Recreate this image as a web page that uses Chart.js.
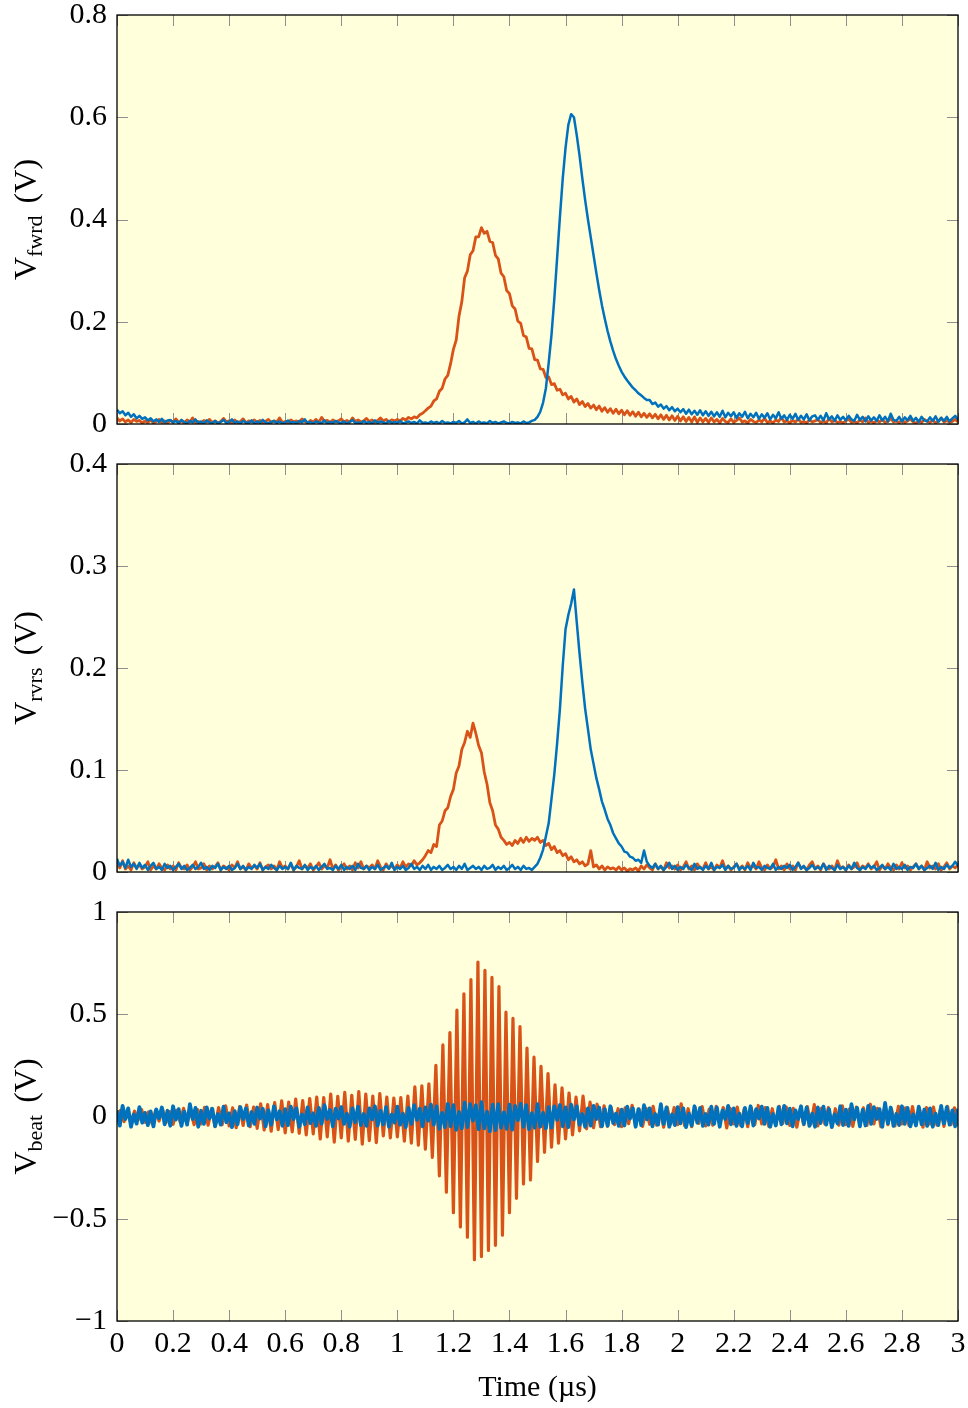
<!DOCTYPE html>
<html>
<head>
<meta charset="utf-8">
<script src="https://cdn.jsdelivr.net/npm/chart.js@4.4.1/dist/chart.umd.min.js"></script>
<style>
  body { margin: 0; background: #fff; }
  #wrap { position: relative; width: 968px; height: 1408px; }
  canvas { position: absolute; left: 0; }
</style>
</head>
<body>
<div id="wrap">
  <canvas id="fwrd" width="968" height="440" style="top:0px"></canvas>
  <canvas id="rvrs" width="968" height="440" style="top:448px"></canvas>
  <canvas id="beat" width="968" height="512" style="top:896px"></canvas>
</div>
<script>
// sampling (µs)
const sampleStep = 0.01;
const beatStep = 0.0125;
const xTicks = [0, 0.2, 0.4, 0.6, 0.8, 1, 1.2, 1.4, 1.6, 1.8, 2, 2.2, 2.4, 2.6, 2.8, 3];

const fwrdOrange = [
  0.012,0.006,0.010,0.004,0.008,0.003,0.009,0.005,0.007,0.002,
  0.006,0.003,0.008,0.002,0.005,0.009,0.003,0.006,0.002,0.007,
  0.004,0.010,0.003,0.006,0.002,0.008,0.004,0.012,0.003,0.005,
  0.002,0.007,0.004,0.009,0.003,0.006,0.002,0.005,0.011,0.004,
  0.006,0.002,0.008,0.003,0.005,0.010,0.002,0.006,0.004,0.008,
  0.003,0.007,0.002,0.005,0.009,0.003,0.006,0.004,0.012,0.003,
  0.005,0.002,0.008,0.004,0.006,0.003,0.010,0.005,0.002,0.007,
  0.004,0.009,0.003,0.013,0.005,0.007,0.003,0.008,0.004,0.006,
  0.010,0.004,0.007,0.003,0.012,0.005,0.008,0.004,0.006,0.011,
  0.005,0.008,0.003,0.007,0.012,0.006,0.009,0.004,0.008,0.006,
  0.009,0.006,0.011,0.008,0.013,0.010,0.014,0.012,0.018,0.021,
  0.026,0.031,0.035,0.045,0.049,0.064,0.070,0.088,0.095,0.118,
  0.146,0.164,0.211,0.239,0.286,0.299,0.331,0.339,0.366,0.366,
  0.384,0.373,0.377,0.357,0.355,0.330,0.323,0.295,0.288,0.261,
  0.255,0.231,0.225,0.201,0.197,0.173,0.170,0.148,0.147,0.126,
  0.125,0.108,0.107,0.091,0.092,0.077,0.079,0.066,0.068,0.057,
  0.060,0.049,0.054,0.043,0.049,0.038,0.044,0.034,0.040,0.031,
  0.037,0.028,0.035,0.025,0.032,0.023,0.030,0.021,0.029,0.020,
  0.027,0.018,0.026,0.017,0.024,0.015,0.023,0.014,0.021,0.013,
  0.020,0.012,0.019,0.010,0.018,0.009,0.017,0.008,0.016,0.007,
  0.015,0.006,0.014,0.005,0.013,0.004,0.014,0.003,0.012,0.004,
  0.011,0.003,0.012,0.004,0.009,0.002,0.011,0.005,0.003,0.010,
  0.003,0.007,0.012,0.004,0.006,0.002,0.009,0.005,0.003,0.008,
  0.004,0.011,0.003,0.006,0.002,0.008,0.005,0.013,0.004,0.006,
  0.002,0.007,0.004,0.010,0.003,0.005,0.002,0.008,0.004,0.006,
  0.009,0.003,0.006,0.002,0.011,0.004,0.007,0.003,0.005,0.002,
  0.006,0.010,0.003,0.005,0.002,0.008,0.004,0.012,0.003,0.006,
  0.002,0.007,0.004,0.009,0.003,0.005,0.011,0.004,0.006,0.002,
  0.008,0.003,0.006,0.010,0.004,0.002,0.007,0.003,0.009,0.005,
  0.003,0.008,0.002,0.006,0.012,0.004,0.007,0.003,0.005,0.009,
  0.004
];

const fwrdBlue = [
  0.028,0.021,0.025,0.017,0.022,0.014,0.019,0.011,0.016,0.010,
  0.013,0.007,0.011,0.005,0.009,0.004,0.010,0.003,0.007,0.008,
  0.003,0.006,0.002,0.008,0.004,0.001,0.006,0.003,0.009,0.002,
  0.005,0.001,0.007,0.003,0.002,0.006,0.001,0.004,0.008,0.002,
  0.004,0.009,0.002,0.005,0.001,0.006,0.003,0.002,0.007,0.001,
  0.005,0.002,0.008,0.003,0.001,0.004,0.006,0.002,0.005,0.001,
  0.003,0.007,0.002,0.004,0.001,0.006,0.003,0.009,0.002,0.004,
  0.001,0.005,0.003,0.002,0.007,0.001,0.004,0.002,0.006,0.003,
  0.002,0.005,0.001,0.004,0.008,0.002,0.003,0.001,0.006,0.002,
  0.004,0.001,0.007,0.002,0.005,0.003,0.001,0.006,0.002,0.004,
  0.002,0.006,0.001,0.003,0.005,0.002,0.004,0.001,0.007,0.002,
  0.003,0.001,0.005,0.002,0.004,0.001,0.006,0.002,0.003,0.001,
  0.004,0.002,0.006,0.001,0.003,0.009,0.002,0.004,0.001,0.005,
  0.002,0.003,0.001,0.006,0.002,0.004,0.001,0.003,0.005,0.002,
  0.001,0.004,0.002,0.003,0.001,0.005,0.002,0.003,0.006,0.008,
  0.014,0.024,0.042,0.070,0.120,0.175,0.245,0.325,0.405,0.480,
  0.540,0.585,0.606,0.600,0.565,0.525,0.480,0.438,0.400,0.365,
  0.330,0.295,0.262,0.232,0.206,0.182,0.161,0.143,0.127,0.114,
  0.102,0.093,0.085,0.078,0.071,0.066,0.060,0.056,0.051,0.047,
  0.047,0.039,0.042,0.034,0.038,0.030,0.035,0.027,0.033,0.025,
  0.030,0.023,0.029,0.020,0.028,0.019,0.026,0.018,0.027,0.017,
  0.025,0.016,0.024,0.015,0.023,0.014,0.026,0.013,0.022,0.015,
  0.023,0.012,0.021,0.014,0.024,0.011,0.020,0.013,0.022,0.010,
  0.019,0.012,0.021,0.009,0.018,0.011,0.023,0.010,0.017,0.008,
  0.018,0.010,0.020,0.008,0.016,0.009,0.019,0.007,0.015,0.017,
  0.008,0.016,0.007,0.021,0.009,0.015,0.006,0.017,0.008,0.014,
  0.007,0.016,0.009,0.006,0.018,0.008,0.014,0.005,0.015,0.007,
  0.013,0.006,0.017,0.007,0.014,0.005,0.020,0.008,0.006,0.014,
  0.005,0.013,0.007,0.016,0.006,0.012,0.004,0.014,0.007,0.005,
  0.013,0.006,0.015,0.004,0.012,0.006,0.014,0.005,0.011,0.016,
  0.008
];

const rvrsOrange = [
  0.008,0.004,0.011,0.003,0.006,0.002,0.009,0.004,0.007,0.003,
  0.005,0.010,0.002,0.006,0.003,0.008,0.004,0.002,0.007,0.003,
  0.006,0.002,0.009,0.004,0.003,0.007,0.002,0.005,0.010,0.003,
  0.004,0.008,0.002,0.006,0.003,0.005,0.009,0.002,0.006,0.004,
  0.002,0.007,0.004,0.010,0.003,0.005,0.002,0.008,0.004,0.006,
  0.003,0.009,0.002,0.005,0.007,0.003,0.006,0.002,0.010,0.004,
  0.006,0.003,0.008,0.002,0.005,0.011,0.003,0.006,0.004,0.008,
  0.002,0.005,0.009,0.003,0.006,0.004,0.012,0.003,0.007,0.002,
  0.005,0.008,0.003,0.006,0.002,0.009,0.004,0.010,0.003,0.006,
  0.004,0.007,0.003,0.011,0.005,0.002,0.008,0.004,0.006,0.003,
  0.007,0.004,0.010,0.005,0.008,0.006,0.011,0.007,0.009,0.012,
  0.016,0.021,0.019,0.027,0.025,0.046,0.050,0.060,0.063,0.074,
  0.081,0.097,0.104,0.120,0.127,0.138,0.132,0.146,0.136,0.124,
  0.117,0.098,0.086,0.068,0.060,0.046,0.042,0.034,0.031,0.027,
  0.029,0.026,0.031,0.028,0.033,0.029,0.034,0.030,0.033,0.031,
  0.034,0.029,0.031,0.026,0.028,0.022,0.025,0.019,0.021,0.016,
  0.018,0.012,0.015,0.010,0.012,0.008,0.010,0.006,0.008,0.021,
  0.005,0.007,0.003,0.006,0.002,0.005,0.003,0.004,0.002,0.005,
  0.002,0.004,0.001,0.003,0.002,0.004,0.001,0.006,0.003,0.007,
  0.004,0.002,0.008,0.003,0.005,0.002,0.009,0.004,0.006,0.003,
  0.007,0.002,0.005,0.010,0.003,0.006,0.002,0.008,0.004,0.003,
  0.009,0.003,0.005,0.002,0.007,0.004,0.011,0.003,0.006,0.002,
  0.005,0.008,0.003,0.006,0.002,0.009,0.004,0.006,0.003,0.010,
  0.004,0.002,0.007,0.003,0.005,0.012,0.003,0.006,0.002,0.008,
  0.003,0.006,0.002,0.009,0.004,0.005,0.002,0.007,0.010,0.003,
  0.006,0.002,0.008,0.004,0.003,0.006,0.002,0.011,0.004,0.005,
  0.002,0.007,0.003,0.005,0.009,0.002,0.006,0.004,0.008,0.003,
  0.005,0.010,0.002,0.006,0.003,0.008,0.004,0.002,0.007,0.003,
  0.009,0.004,0.006,0.002,0.005,0.008,0.003,0.006,0.002,0.010,
  0.004,0.006,0.003,0.008,0.002,0.005,0.009,0.003,0.006,0.004,
  0.007
];

const rvrsBlue = [
  0.013,0.006,0.010,0.004,0.012,0.005,0.008,0.003,0.009,0.004,
  0.007,0.002,0.006,0.009,0.003,0.005,0.002,0.008,0.004,0.006,
  0.002,0.005,0.008,0.003,0.006,0.002,0.004,0.007,0.003,0.005,
  0.009,0.003,0.005,0.002,0.006,0.004,0.008,0.002,0.005,0.003,
  0.006,0.002,0.004,0.008,0.003,0.006,0.002,0.005,0.003,0.007,
  0.004,0.008,0.002,0.005,0.003,0.007,0.004,0.002,0.006,0.003,
  0.005,0.003,0.009,0.002,0.006,0.004,0.003,0.007,0.002,0.005,
  0.003,0.006,0.002,0.005,0.008,0.003,0.004,0.002,0.006,0.003,
  0.007,0.002,0.005,0.003,0.006,0.002,0.008,0.004,0.003,0.006,
  0.002,0.005,0.003,0.007,0.002,0.004,0.006,0.003,0.009,0.002,
  0.005,0.003,0.006,0.002,0.004,0.008,0.003,0.005,0.002,0.006,
  0.003,0.007,0.002,0.005,0.003,0.006,0.002,0.004,0.007,0.003,
  0.005,0.002,0.006,0.003,0.008,0.002,0.004,0.006,0.003,0.005,
  0.002,0.006,0.003,0.004,0.007,0.002,0.005,0.003,0.006,0.002,
  0.004,0.007,0.003,0.005,0.002,0.006,0.003,0.004,0.002,0.005,
  0.008,0.014,0.022,0.035,0.048,0.072,0.096,0.126,0.160,0.202,
  0.238,0.252,0.263,0.277,0.245,0.214,0.186,0.160,0.140,0.120,
  0.106,0.092,0.081,0.069,0.061,0.052,0.046,0.038,0.033,0.028,
  0.025,0.020,0.019,0.015,0.014,0.011,0.012,0.009,0.021,0.010,
  0.006,0.004,0.008,0.003,0.006,0.002,0.005,0.009,0.003,0.006,
  0.002,0.005,0.003,0.007,0.004,0.002,0.008,0.003,0.005,0.002,
  0.006,0.003,0.009,0.002,0.005,0.004,0.007,0.002,0.006,0.003,
  0.004,0.008,0.002,0.005,0.003,0.006,0.002,0.009,0.004,0.005,
  0.002,0.006,0.004,0.003,0.008,0.002,0.005,0.003,0.006,0.004,
  0.007,0.002,0.005,0.009,0.003,0.006,0.002,0.004,0.007,0.003,
  0.005,0.003,0.008,0.002,0.006,0.004,0.002,0.007,0.003,0.005,
  0.002,0.006,0.003,0.009,0.004,0.002,0.005,0.003,0.007,0.004,
  0.006,0.002,0.004,0.007,0.003,0.005,0.002,0.008,0.003,0.005,
  0.003,0.007,0.002,0.005,0.004,0.008,0.003,0.006,0.002,0.004,
  0.006,0.003,0.009,0.002,0.005,0.003,0.007,0.004,0.006,0.010,
  0.006
];

const beatBlue = [
  0.030,-0.045,0.052,-0.012,0.040,-0.050,0.010,-0.035,0.046,-0.030,
  0.018,-0.042,0.025,-0.048,0.035,-0.008,0.044,-0.038,0.028,-0.045,
  0.050,-0.015,0.036,-0.046,0.024,-0.040,0.060,-0.012,0.042,-0.050,
  0.028,-0.036,0.045,-0.010,0.038,-0.047,0.012,-0.040,0.048,-0.028,
  0.015,-0.052,0.026,-0.038,0.046,-0.012,0.040,-0.044,0.022,-0.036,
  0.044,-0.010,0.038,-0.048,0.030,-0.040,0.050,-0.014,0.026,-0.045,
  0.036,-0.042,0.048,-0.012,0.040,-0.050,0.010,-0.038,0.045,-0.032,
  0.015,-0.046,0.042,-0.035,0.055,-0.012,0.032,-0.048,0.038,-0.010,
  0.046,-0.036,0.014,-0.050,0.040,-0.028,0.048,-0.042,0.012,-0.046,
  0.040,-0.014,0.050,-0.044,0.028,-0.038,0.046,-0.050,0.010,-0.030,
  0.048,-0.040,0.014,-0.052,0.042,-0.036,0.055,-0.016,0.038,-0.048,
  0.044,-0.020,0.058,-0.040,0.050,-0.060,0.018,-0.052,0.062,-0.048,
  0.055,-0.065,0.022,-0.058,0.068,-0.052,0.060,-0.020,0.055,-0.062,
  0.070,-0.058,0.024,-0.072,0.058,-0.066,0.060,-0.055,0.020,-0.060,
  0.058,-0.064,0.052,-0.018,0.062,-0.050,0.056,-0.062,0.016,-0.055,
  0.060,-0.050,0.018,-0.058,0.046,-0.054,0.050,-0.016,0.056,-0.048,
  0.045,-0.052,0.058,-0.014,0.050,-0.040,0.012,-0.050,0.040,-0.045,
  0.052,-0.012,0.044,-0.048,0.036,-0.045,0.050,-0.032,0.014,-0.046,
  0.034,-0.044,0.048,-0.010,0.040,-0.050,0.036,-0.042,0.055,-0.014,
  0.040,-0.048,0.012,-0.040,0.060,-0.036,0.044,-0.050,0.010,-0.042,
  0.046,-0.034,0.040,-0.052,0.014,-0.044,0.050,-0.030,0.042,-0.046,
  0.012,-0.040,0.048,-0.036,0.044,-0.050,0.030,-0.012,0.052,-0.038,
  0.040,-0.046,0.014,-0.048,0.042,-0.032,0.050,-0.044,0.036,-0.010,
  0.048,-0.036,0.042,-0.050,0.012,-0.044,0.046,-0.038,0.052,-0.034,
  0.038,-0.048,0.030,-0.012,0.050,-0.036,0.044,-0.046,0.014,-0.050,
  0.044,-0.032,0.048,-0.040,0.036,-0.052,0.010,-0.034,0.050,-0.042,
  0.034,-0.046,0.060,-0.014,0.042,-0.048,0.032,-0.044,0.052,-0.036,
  0.046,-0.012,0.036,-0.050,0.066,-0.034,0.044,-0.046,0.012,-0.042,
  0.050,-0.036,0.042,-0.048,0.010,-0.044,0.048,-0.038,0.034,-0.046,
  0.040,-0.050,0.014,-0.042,0.052,-0.034,0.046,-0.040,0.030,-0.048,
  0.038
];

const beatOrange = [
  -0.020,0.030,-0.025,0.018,-0.032,0.026,-0.018,0.034,-0.028,0.022,
  -0.035,0.028,-0.022,0.036,-0.030,0.024,-0.038,0.030,-0.026,0.040,
  -0.032,0.028,-0.040,0.034,
  -0.036,0.045,-0.042,0.038,-0.050,0.044,-0.040,0.052,-0.046,0.042,
  -0.055,0.048,-0.044,0.056,-0.050,0.046,
  -0.058,0.062,-0.066,0.058,-0.072,0.068,-0.064,0.076,-0.080,0.070,
  -0.075,0.085,-0.082,0.078,-0.090,0.088,
  -0.085,0.095,-0.110,0.092,-0.100,0.110,-0.125,0.098,-0.105,0.118,
  -0.120,0.104,-0.112,0.122,-0.135,0.110,-0.118,0.100,-0.128,0.112,
  -0.095,0.095,-0.105,0.090,-0.100,0.092,-0.120,0.100,-0.130,0.145,
  -0.140,0.150,-0.160,0.160,-0.200,0.250,-0.290,0.350,-0.370,0.410,
  -0.470,0.520,-0.540,0.600,-0.590,0.670,-0.700,0.755,-0.685,0.715,
  -0.655,0.680,-0.630,0.635,-0.580,0.510,-0.470,0.480,-0.400,0.440,
  -0.330,0.335,-0.310,0.290,-0.220,0.245,-0.175,0.210,-0.150,0.155,
  -0.130,0.140,-0.110,0.115,-0.090,0.095,-0.070,0.100,-0.060,0.070,
  -0.055,0.060,-0.050,0.052,-0.048,
  0.045,-0.040,0.038,-0.050,0.042,-0.035,0.055,-0.044,0.036,-0.048,
  0.040,-0.038,0.050,-0.042,0.034,-0.052,0.046,-0.036,0.044,-0.040,
  0.062,-0.045,0.038,-0.050,0.042,-0.034,0.048,-0.046,0.036,-0.042,
  0.050,-0.038,0.044,-0.056,0.040,-0.036,0.046,-0.044,0.038,-0.050,
  0.042,-0.040,0.054,-0.036,0.044,-0.048,0.038,-0.042,0.050,-0.034,
  0.046,-0.044,0.040,-0.052,0.036,-0.040,0.048,-0.038,0.058,-0.046,
  0.040,-0.036,0.044,-0.050,0.038,-0.042,0.052,-0.040,0.036,-0.048,
  0.046,-0.038,0.042,-0.044,0.060,-0.036,0.040,-0.050,0.044,-0.040,
  0.038,-0.046,0.050,-0.036,0.042,-0.044,0.048,-0.038,0.040,-0.052,
  0.044,-0.036,0.046,-0.042,0.038,-0.048,0.050,-0.040,0.042,-0.046
];

const blue = '#0072BD';
const orange = '#D95319';
const font = 'Liberation Serif';

function points(values, step) {
  return values.map((v, i) => ({ x: +(i * step).toFixed(4), y: v }));
}

function fmt(v) {
  return String(parseFloat(v.toFixed(2))).replace('-', '\u2212');
}

// background, inner tick marks, frame and y label
const framePlugin = {
  id: 'frame',
  beforeDraw(chart) {
    const a = chart.chartArea, ctx = chart.ctx;
    ctx.save();
    ctx.fillStyle = '#FFFFDC';
    ctx.fillRect(a.left, a.top, a.right - a.left, a.bottom - a.top);
    ctx.restore();
  },
  beforeDatasetsDraw(chart) {
    const a = chart.chartArea, ctx = chart.ctx;
    const len = 11;
    ctx.save();
    ctx.strokeStyle = '#8f8f8f';
    ctx.lineWidth = 1;
    ctx.beginPath();
    xTicks.forEach(v => {
      const px = Math.round(chart.scales.x.getPixelForValue(v)) + 0.5;
      ctx.moveTo(px, a.bottom); ctx.lineTo(px, a.bottom - len);
      ctx.moveTo(px, a.top); ctx.lineTo(px, a.top + len);
    });
    chart.scales.y.ticks.forEach(t => {
      const py = Math.round(chart.scales.y.getPixelForValue(t.value)) + 0.5;
      ctx.moveTo(a.left, py); ctx.lineTo(a.left + len, py);
      ctx.moveTo(a.right, py); ctx.lineTo(a.right - len, py);
    });
    ctx.stroke();
    ctx.restore();
  },
  afterDatasetsDraw(chart, args, opts) {
    const a = chart.chartArea, ctx = chart.ctx;
    ctx.save();
    ctx.strokeStyle = '#000';
    ctx.lineWidth = 1.3;
    ctx.strokeRect(a.left, a.top, a.right - a.left, a.bottom - a.top);

    ctx.fillStyle = '#000';
    ctx.textBaseline = 'alphabetic';
    const big = '32px "' + font + '"', small = '22px "' + font + '"';
    ctx.font = big;
    const wV = ctx.measureText('V').width;
    const wTail = ctx.measureText('(V)').width;
    ctx.font = small;
    const wSub = ctx.measureText(opts.sub).width;
    const total = wV + wSub + 12 + wTail;
    ctx.translate(25, (a.top + a.bottom) / 2);
    ctx.rotate(-Math.PI / 2);
    let x = -total / 2;
    ctx.font = big;
    ctx.fillText('V', x, 11);
    x += wV;
    ctx.font = small;
    ctx.fillText(opts.sub, x, 17);
    x += wSub + 12;
    ctx.font = big;
    ctx.fillText('(V)', x, 11);
    ctx.restore();
  }
};

function makeChart(id, sub, series, yMin, yMax, yStep, showX) {
  const ctx = document.getElementById(id).getContext('2d');
  return new Chart(ctx, {
    type: 'line',
    data: {
      datasets: series.map(s => ({
        data: s.data,
        borderColor: s.color,
        borderWidth: s.width,
        pointRadius: 0,
        borderJoinStyle: 'round',
        tension: 0,
        clip: 0
      }))
    },
    options: {
      responsive: false,
      animation: false,
      events: [],
      layout: { padding: { top: id === 'fwrd' ? 15 : 16, right: 10, left: 0, bottom: 0 } },
      plugins: { legend: { display: false }, tooltip: { enabled: false }, frame: { sub: sub } },
      scales: {
        x: {
          type: 'linear',
          min: 0, max: 3,
          grid: { display: false, drawTicks: false },
          border: { display: false },
          ticks: {
            display: showX,
            stepSize: 0.2,
            padding: 8,
            color: '#000',
            font: { family: font, size: 30, lineHeight: 1 },
            maxRotation: 0,
            autoSkip: false,
            callback: v => fmt(v)
          },
          title: {
            display: showX,
            text: 'Time (\u00b5s)',
            color: '#000',
            font: { family: font, size: 30, lineHeight: 1 },
            padding: { top: 0, bottom: 5 }
          },
          afterFit(scale) {
            scale.height = showX ? 87 : 16;
            scale.paddingLeft = 0; scale.paddingRight = 0;
          }
        },
        y: {
          min: yMin, max: yMax,
          grid: { display: false, drawTicks: false },
          border: { display: false },
          ticks: {
            stepSize: yStep,
            padding: 10,
            color: '#000',
            font: { family: font, size: 30, lineHeight: 1 },
            callback: v => fmt(v)
          },
          afterFit(scale) {
            scale.width = 117;
            scale.paddingTop = 0; scale.paddingBottom = 0;
          }
        }
      }
    },
    plugins: [framePlugin]
  });
}

// blue first so it is painted on top
makeChart('fwrd', 'fwrd', [
  { data: points(fwrdBlue, sampleStep), color: blue, width: 2.5 },
  { data: points(fwrdOrange, sampleStep), color: orange, width: 2.8 }
], 0, 0.8, 0.2, false);

makeChart('rvrs', 'rvrs', [
  { data: points(rvrsBlue, sampleStep), color: blue, width: 2.5 },
  { data: points(rvrsOrange, sampleStep), color: orange, width: 2.8 }
], 0, 0.4, 0.1, false);

makeChart('beat', 'beat', [
  { data: points(beatBlue, sampleStep), color: blue, width: 3.8 },
  { data: points(beatOrange, beatStep), color: orange, width: 3.2 }
], -1, 1, 0.5, true);
</script>
</body>
</html>
